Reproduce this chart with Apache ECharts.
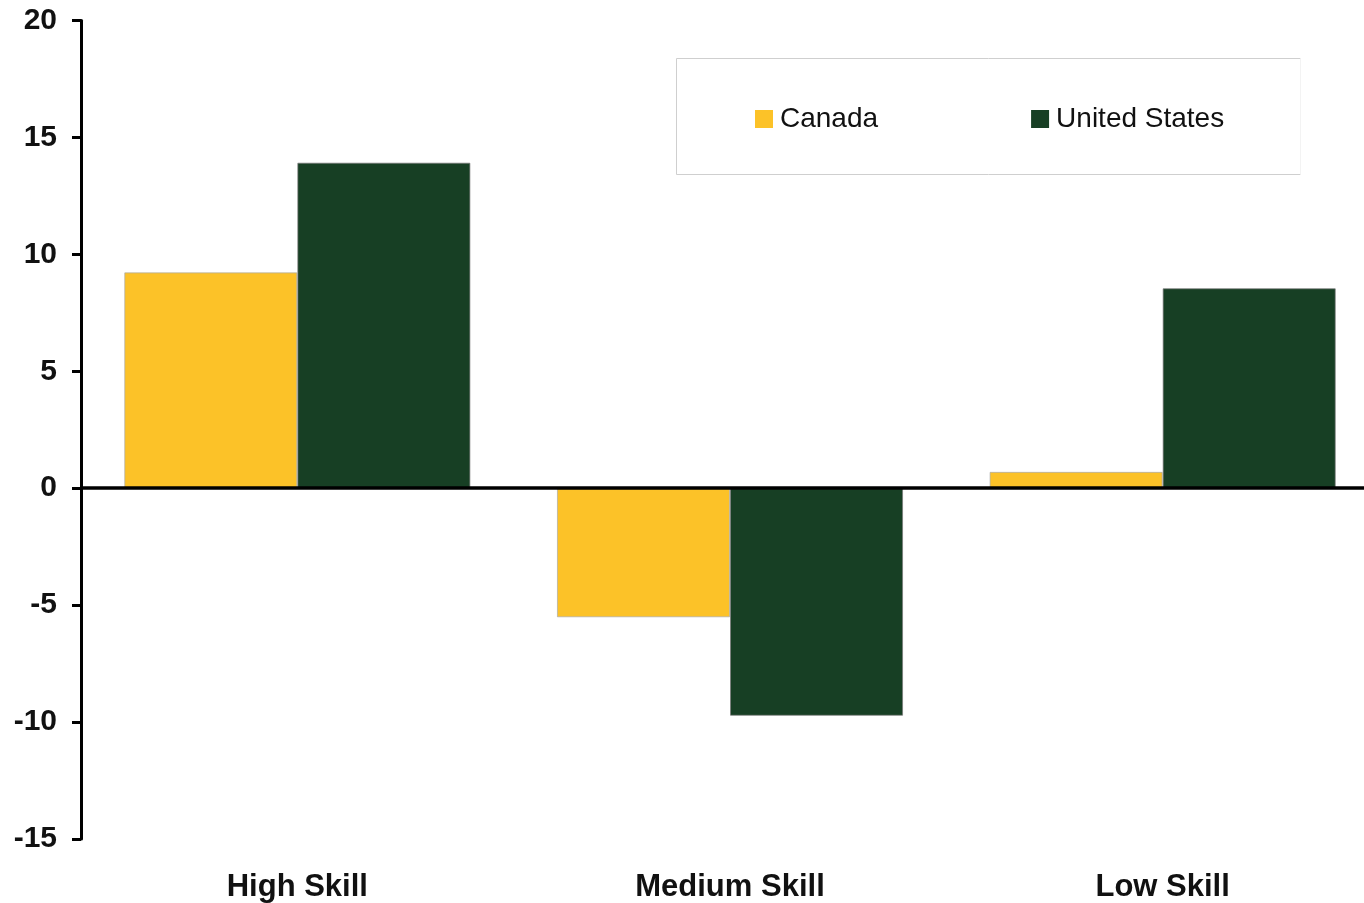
<!DOCTYPE html>
<html>
<head>
<meta charset="utf-8">
<script src="https://cdn.jsdelivr.net/npm/echarts@6/dist/echarts.min.js"></script>
<style>
html,body{margin:0;padding:0;background:#fff;overflow:hidden;width:1364px;height:903px;}
#chart{width:1380px;height:903px;}
</style>
</head>
<body>
<div id="chart"></div>
<script>
const categories = ['High Skill', 'Medium Skill', 'Low Skill'];
const canada = [9.23, -5.52, 0.70];
const unitedStates = [13.92, -9.73, 8.55];
const seriesNames = ['Canada', 'United States'];
const yMin = -15, yMax = 20, yStep = 5;

const chart = echarts.init(document.getElementById('chart'), null, {renderer: 'canvas'});
const FONT = 'Liberation Sans, Arial, sans-serif';
chart.setOption({
  animation: false,
  backgroundColor: '#ffffff',
  grid: {left: 81, top: 20.5, right: 1, bottom: 63, containLabel: false},
  graphic: [
    {
      type: 'polyline',
      shape: {points: [[1300.5, 58.5], [676.5, 58.5], [676.5, 174.5], [1300.5, 174.5]]},
      style: {fill: null, stroke: '#cfcfcf', lineWidth: 1},
      z: 0
    },
    {
      type: 'line',
      shape: {x1: 1300.5, y1: 58.5, x2: 1300.5, y2: 174.5},
      style: {stroke: '#f3f3f3', lineWidth: 1},
      z: 0
    }
  ],
  legend: {
    data: seriesNames,
    left: 750, top: 100,
    itemWidth: 18, itemHeight: 18, itemGap: 153,
    icon: 'rect',
    itemStyle: {borderWidth: 0},
    textStyle: {fontFamily: FONT, fontSize: 28, color: '#111', padding: [0,0,0,2]},
    z: 5
  },
  xAxis: {
    type: 'category',
    data: categories,
    position: 'bottom',
    axisLine: {show: false, onZero: false},
    axisTick: {show: false},
    axisLabel: {fontFamily: FONT, fontSize: 31, fontWeight: 'bold', color: '#111', margin: 33}
  },
  yAxis: {
    type: 'value',
    min: yMin, max: yMax, interval: yStep,
    axisLine: {show: true, lineStyle: {color: '#000', width: 3}},
    axisTick: {show: true, inside: false, length: 9, lineStyle: {color: '#000', width: 3}},
    splitLine: {show: false},
    axisLabel: {fontFamily: FONT, fontSize: 30, fontWeight: 'bold', color: '#111', margin: 24}
  },
  series: [
    {
      name: seriesNames[0], type: 'bar', data: canada,
      barGap: '0%', barCategoryGap: '20%',
      itemStyle: {color: '#FCC228', borderColor: 'rgba(170,170,170,0.7)', borderWidth: 1},
      markLine: {
        silent: true, symbol: 'none', label: {show: false},
        lineStyle: {color: '#000', width: 3.5, type: 'solid'},
        data: [{yAxis: 0}],
        z: 10
      }
    },
    {
      name: seriesNames[1], type: 'bar', data: unitedStates,
      barGap: '0%', barCategoryGap: '20%',
      itemStyle: {color: '#173F24', borderColor: 'rgba(120,120,120,0.7)', borderWidth: 1}
    }
  ]
});
</script>
</body>
</html>
